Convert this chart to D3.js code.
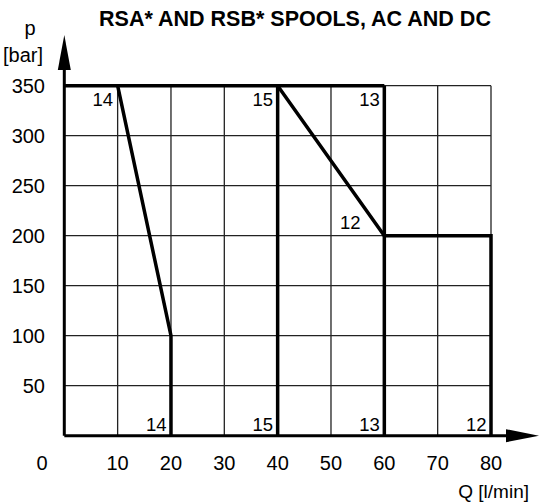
<!DOCTYPE html>
<html>
  <head>
    <meta charset="utf-8">
    <script src="https://d3js.org/d3.v7.min.js"></script>
    <style>
      body { margin: 0; background: #fff; }
      svg text { font-family: "Liberation Sans", Arial, sans-serif; fill: #000; }
    </style>
  </head>
  <body>
    <div id="chart"></div>

    <script>
        // data
        const xTicks = [10, 20, 30, 40, 50, 60, 70, 80]
        const yTicks = [50, 100, 150, 200, 250, 300, 350]

        // spool limit curves: [Q, p]
        const curve14 = [[10, 350], [20, 100], [20, 0]]
        const curve15 = [[40, 350], [40, 0]]
        const curve13 = [[60, 350], [60, 0]]
        const curve12 = [[40, 350], [60, 200], [80, 200], [80, 0]]
        const topLine = [[0, 350], [60, 350]]

        // curve labels: text, Q, p
        const topLabels = [["14", 10, 350], ["15", 40, 350], ["13", 60, 350]]
        const bottomLabels = [["14", 20], ["15", 40], ["13", 60], ["12", 80]]
        const midLabels = [["12", 55, 200]]

        const width = 539, height = 502

        const x = d3.scaleLinear().domain([0, 80]).range([64.3, 491])
        const y = d3.scaleLinear().domain([0, 350]).range([435.7, 85.7])

        const svg = d3.select("#chart").append("svg")
            .attr("width", width)
            .attr("height", height)

        // grid
        const grid = svg.append("g")
            .attr("stroke", "#222")
            .attr("stroke-width", 1.3)
        grid.selectAll(".v").data(xTicks).enter().append("line")
            .attr("x1", d => x(d)).attr("x2", d => x(d))
            .attr("y1", y(0)).attr("y2", y(350))
        grid.selectAll(".h").data(yTicks).enter().append("line")
            .attr("x1", x(0)).attr("x2", x(80))
            .attr("y1", d => y(d)).attr("y2", d => y(d))

        // thick curves
        const line = d3.line().x(d => x(d[0])).y(d => y(d[1]))
        svg.selectAll(".curve")
            .data([topLine, curve14, curve15, curve13, curve12])
            .enter().append("path")
            .attr("d", line)
            .attr("fill", "none")
            .attr("stroke", "#000")
            .attr("stroke-width", 3.5)
            .attr("stroke-linejoin", "miter")

        // axes with arrows
        svg.append("line")
            .attr("x1", x(0)).attr("x2", 510)
            .attr("y1", y(0)).attr("y2", y(0))
            .attr("stroke", "#000").attr("stroke-width", 3)
        svg.append("path")
            .attr("d", `M506,${y(0) - 6.5}L539,${y(0)}L506,${y(0) + 6.5}Z`)
            .attr("fill", "#000")
        svg.append("line")
            .attr("x1", x(0)).attr("x2", x(0))
            .attr("y1", y(0)).attr("y2", 66)
            .attr("stroke", "#000").attr("stroke-width", 3)
        svg.append("path")
            .attr("d", `M${x(0) - 6.5},70L${x(0)},35L${x(0) + 6.5},70Z`)
            .attr("fill", "#000")

        // tick labels
        svg.selectAll(".yl").data(yTicks).enter().append("text")
            .attr("x", 45)
            .attr("y", d => y(d))
            .attr("dy", "0.35em")
            .attr("text-anchor", "end")
            .attr("font-size", 20)
            .text(d => d)
        svg.selectAll(".xl").data(xTicks).enter().append("text")
            .attr("x", d => x(d))
            .attr("y", 470)
            .attr("text-anchor", "middle")
            .attr("font-size", 20)
            .text(d => d)
        svg.append("text")
            .attr("x", 42).attr("y", 470)
            .attr("text-anchor", "middle").attr("font-size", 20)
            .text("0")

        // curve labels
        svg.selectAll(".tl").data(topLabels).enter().append("text")
            .attr("x", d => x(d[1]) - 4.5)
            .attr("y", d => y(d[2]) + 20.5)
            .attr("text-anchor", "end")
            .attr("font-size", 18.5)
            .text(d => d[0])
        svg.selectAll(".bl").data(bottomLabels).enter().append("text")
            .attr("x", d => x(d[1]) - 4.5)
            .attr("y", y(0) - 5)
            .attr("text-anchor", "end")
            .attr("font-size", 18.5)
            .text(d => d[0])
        svg.selectAll(".ml").data(midLabels).enter().append("text")
            .attr("x", d => x(d[1]) + 3)
            .attr("y", d => y(d[2]) - 7)
            .attr("text-anchor", "end")
            .attr("font-size", 18.5)
            .text(d => d[0])

        // axis titles
        svg.append("text")
            .attr("x", 30).attr("y", 35)
            .attr("text-anchor", "middle").attr("font-size", 20)
            .text("p")
        svg.append("text")
            .attr("x", 23).attr("y", 62)
            .attr("text-anchor", "middle").attr("font-size", 20)
            .text("[bar]")
        svg.append("text")
            .attr("x", 529).attr("y", 498)
            .attr("text-anchor", "end").attr("font-size", 19)
            .text("Q [l/min]")

        // title
        svg.append("text")
            .attr("x", 295).attr("y", 26)
            .attr("text-anchor", "middle")
            .attr("font-size", 21.5)
            .attr("font-weight", "bold")
            .text("RSA* AND RSB* SPOOLS, AC AND DC")
    </script>
  </body>
</html>
